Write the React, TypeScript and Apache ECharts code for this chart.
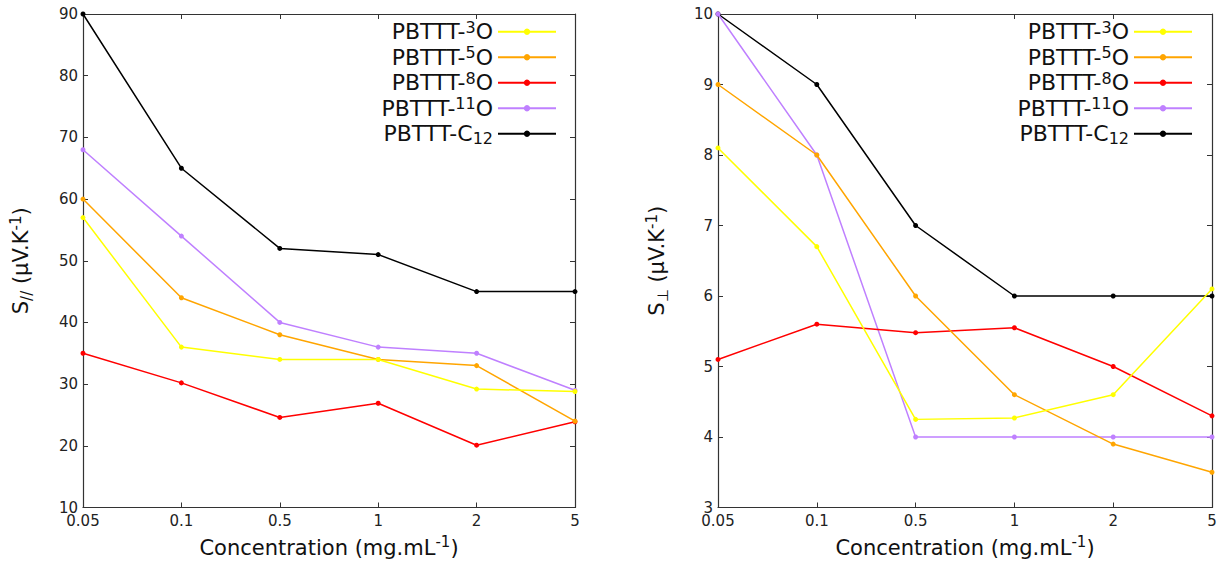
import React, { useEffect, useRef } from "react";
import * as echarts from "echarts";

const categories = ["0.05", "0.1", "0.5", "1", "2", "5"];
const seriesNames = ["PBTTT-3O", "PBTTT-5O", "PBTTT-8O", "PBTTT-11O", "PBTTT-C12"];
const legendLabels = [
  "{b|PBTTT-}{sup|3}{b|O}",
  "{b|PBTTT-}{sup|5}{b|O}",
  "{b|PBTTT-}{sup|8}{b|O}",
  "{b|PBTTT-}{sup|11}{b|O}",
  "{b|PBTTT-C}{sub|12}",
];
const colors = ["#ffff00", "#ffa500", "#ff0000", "#bf80ff", "#000000"];

// Left panel: S parallel
const par3O = [57, 36, 34, 34, 29.2, 28.8];
const par5O = [60, 44, 38, 34, 33, 24];
const par8O = [35, 30.2, 24.6, 26.9, 20.1, 23.9];
const par11O = [68, 54, 40, 36, 35, 29];
const parC12 = [90, 65, 52, 51, 45, 45];

// Right panel: S perpendicular
const perp3O = [8.1, 6.7, 4.25, 4.27, 4.6, 6.1];
const perp5O = [9, 8, 6, 4.6, 3.9, 3.5];
const perp8O = [5.1, 5.6, 5.48, 5.55, 5.0, 4.3];
const perp11O = [10, 8, 4, 4, 4, 4];
const perpC12 = [10, 9, 7, 6, 6, 6];

const leftRange = { min: 10, max: 90, interval: 10 };
const rightRange = { min: 3, max: 10, interval: 1 };

const xTitle = "{b|Concentration (mg.mL}{sup|-1}{b|)}";
const yTitleLeft = "{b|S}{sub|//}{b| (µV.K}{sup|-1}{b|)}";
const yTitleRight = "{b|S}{sub|⊥}{b| (µV.K}{sup|-1}{b|)}";

const FONT = "DejaVu Sans";
const AXIS_COLOR = "#333";

const richTitle = {
  b: { fontSize: 21, fontFamily: FONT, color: "#111", lineHeight: 26 },
  sup: { fontSize: 15, fontFamily: FONT, color: "#111", lineHeight: 15, verticalAlign: "top" },
  sub: { fontSize: 15, fontFamily: FONT, color: "#111", lineHeight: 15, verticalAlign: "bottom" },
};

const richLegend = {
  b: { fontSize: 22, fontFamily: FONT, color: "#111", lineHeight: 25.5 },
  sup: { fontSize: 16, fontFamily: FONT, color: "#111", lineHeight: 16, verticalAlign: "top" },
  sub: { fontSize: 16, fontFamily: FONT, color: "#111", lineHeight: 16, verticalAlign: "bottom" },
};

export default function App() {
  const ref = useRef<HTMLDivElement>(null);
  useEffect(() => {
    if (!ref.current) return;
    const chart = echarts.init(ref.current, undefined, { renderer: "svg" });

    const grids = [
      { left: 83, top: 14, width: 492, height: 495 },
      { left: 718, top: 14, width: 494, height: 495 },
    ];

    const xAxes: any[] = [];
    const yAxes: any[] = [];
    [0, 1].forEach((g) => {
      xAxes.push({
        type: "category",
        gridIndex: g,
        data: categories,
        boundaryGap: false,
        position: "bottom",
        axisLine: { lineStyle: { color: AXIS_COLOR, width: 1.2 } },
        axisTick: { inside: true, length: 5, lineStyle: { color: AXIS_COLOR } },
        axisLabel: { fontSize: 15, fontFamily: FONT, color: "#222", margin: 6, showMinLabel: true, showMaxLabel: true, interval: 0 },
        splitLine: { show: false },
        name: xTitle,
        nameLocation: "middle",
        nameGap: 27,
        nameTextStyle: { rich: richTitle },
      });
      xAxes.push({
        type: "category",
        gridIndex: g,
        data: categories,
        boundaryGap: false,
        position: "top",
        axisLine: { lineStyle: { color: AXIS_COLOR, width: 1.2 } },
        axisTick: { inside: true, length: 5, lineStyle: { color: AXIS_COLOR } },
        axisLabel: { show: false },
        splitLine: { show: false },
      });
      const rng = g === 0 ? leftRange : rightRange;
      yAxes.push({
        type: "value",
        gridIndex: g,
        min: rng.min,
        max: rng.max,
        interval: rng.interval,
        position: "left",
        axisLine: { show: true, lineStyle: { color: AXIS_COLOR, width: 1.2 } },
        axisTick: { show: true, inside: true, length: 5, lineStyle: { color: AXIS_COLOR } },
        axisLabel: { fontSize: 15, fontFamily: FONT, color: "#222", margin: 5 },
        splitLine: { show: false },
        name: g === 0 ? yTitleLeft : yTitleRight,
        nameLocation: "middle",
        nameGap: g === 0 ? 49 : 48,
        nameTextStyle: { rich: richTitle },
      });
      yAxes.push({
        type: "value",
        gridIndex: g,
        min: rng.min,
        max: rng.max,
        interval: rng.interval,
        position: "right",
        axisLine: { show: true, lineStyle: { color: AXIS_COLOR, width: 1.2 } },
        axisTick: { show: true, inside: true, length: 5, lineStyle: { color: AXIS_COLOR } },
        axisLabel: { show: false },
        splitLine: { show: false },
      });
    });

    const leftData = [par3O, par5O, par8O, par11O, parC12];
    const rightData = [perp3O, perp5O, perp8O, perp11O, perpC12];

    const series: any[] = [];
    [leftData, rightData].forEach((set, g) => {
      set.forEach((d, i) => {
        series.push({
          type: "line",
          name: seriesNames[i],
          xAxisIndex: g * 2,
          yAxisIndex: g * 2,
          data: d,
          color: colors[i],
          symbol: "circle",
          symbolSize: 5,
          showAllSymbol: true,
          lineStyle: { width: 1.5, color: colors[i] },
          itemStyle: { color: colors[i] },
          z: 10 - i,
        });
      });
    });

    const legendBase = {
      orient: "vertical",
      top: 19,
      padding: 0,
      align: "right",
      itemWidth: 58,
      itemHeight: 8,
      itemGap: 0,
      data: seriesNames,
      selectedMode: false,
      formatter: (name: string) => legendLabels[seriesNames.indexOf(name)],
      textStyle: { rich: richLegend, lineHeight: 25.5 },
    };

    chart.setOption({
      animation: false,
      backgroundColor: "#fff",
      grid: grids,
      xAxis: xAxes,
      yAxis: yAxes,
      legend: [
        { ...legendBase, right: 1225 - 557 },
        { ...legendBase, right: 1225 - 1193 },
      ],
      series,
    });
    return () => chart.dispose();
  }, []);
  return (
    <div
      ref={ref}
      style={{ position: "fixed", left: 0, top: 0, width: 1225, height: 563 }}
    />
  );
}
